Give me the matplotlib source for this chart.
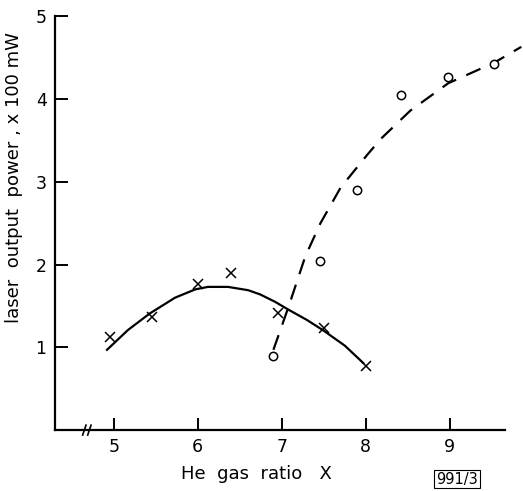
import matplotlib.pyplot as plt
import numpy as np

# measured points, He gas ratio vs output power (x100 mW)
cross_x = [4.95, 5.45, 6.0, 6.4, 6.95, 7.5, 8.0]
cross_y = [1.13, 1.37, 1.76, 1.90, 1.42, 1.23, 0.78]

circle_x = [6.9, 7.45, 7.9, 8.42, 8.98, 9.53]
circle_y = [0.89, 2.04, 2.90, 4.05, 4.27, 4.42]

# hand-drawn fit curves
solid_x = [4.92, 5.17, 5.43, 5.73, 5.97, 6.12, 6.36, 6.60, 6.74, 6.92, 7.07, 7.30, 7.50, 7.75, 7.97]
solid_y = [0.97, 1.21, 1.41, 1.60, 1.70, 1.73, 1.73, 1.69, 1.64, 1.55, 1.46, 1.33, 1.20, 1.02, 0.81]

dash_x = [6.90, 7.08, 7.28, 7.46, 7.70, 8.02, 8.18, 8.53, 8.98, 9.53, 9.85]
dash_y = [0.97, 1.49, 2.10, 2.50, 2.93, 3.33, 3.52, 3.86, 4.19, 4.44, 4.63]

xticks = [5, 6, 7, 8, 9]
yticks = [1, 2, 3, 4, 5]

plt.rcParams['font.family'] = 'DejaVu Sans'

fig = plt.figure(figsize=(5.23, 4.91), dpi=100)
ax = fig.add_axes([0.105, 0.124, 0.895, 0.843])

ax.plot(solid_x, solid_y, color='black', lw=1.6, solid_joinstyle='round')
ax.plot(dash_x, dash_y, color='black', lw=1.6, dashes=(7, 5), dash_joinstyle='round')
ax.plot(cross_x, cross_y, linestyle='none', marker='x', ms=6.5, mew=1.1, color='black')
ax.plot(circle_x, circle_y, linestyle='none', marker='o', ms=6, mfc='white',
        mec='black', mew=1.1)

ax.set_xlim(4.3, 9.87)
ax.set_ylim(0, 5)
ax.spines['top'].set_visible(False)
ax.spines['right'].set_visible(False)
ax.spines['left'].set_linewidth(1.6)
ax.spines['bottom'].set_linewidth(1.6)
ax.spines['bottom'].set_bounds(4.3, 9.65)

ax.set_xticks(xticks)
ax.set_yticks(yticks)
ax.tick_params(axis='both', direction='in', length=9, width=1.4, labelsize=12.5, pad=6)

# axis break on x
for dx in (-0.03, 0.03):
    ax.plot([4.68 + dx - 0.02, 4.68 + dx + 0.02], [-0.06, 0.06], color='black', lw=1.2,
            clip_on=False)

ax.set_xlabel('He  gas  ratio   X', fontsize=13)
ax.xaxis.set_label_coords(0.43, -0.085)
ax.set_ylabel('laser  output  power , x 100 mW', fontsize=13)
ax.yaxis.set_label_coords(-0.068, 0.61)

fig.text(0.874, 0.024, '991/3', fontsize=10.5, ha='center', va='center',
         bbox=dict(boxstyle='square,pad=0.12', fc='white', ec='black', lw=0.8))

fig.savefig('out.png', dpi=100)
